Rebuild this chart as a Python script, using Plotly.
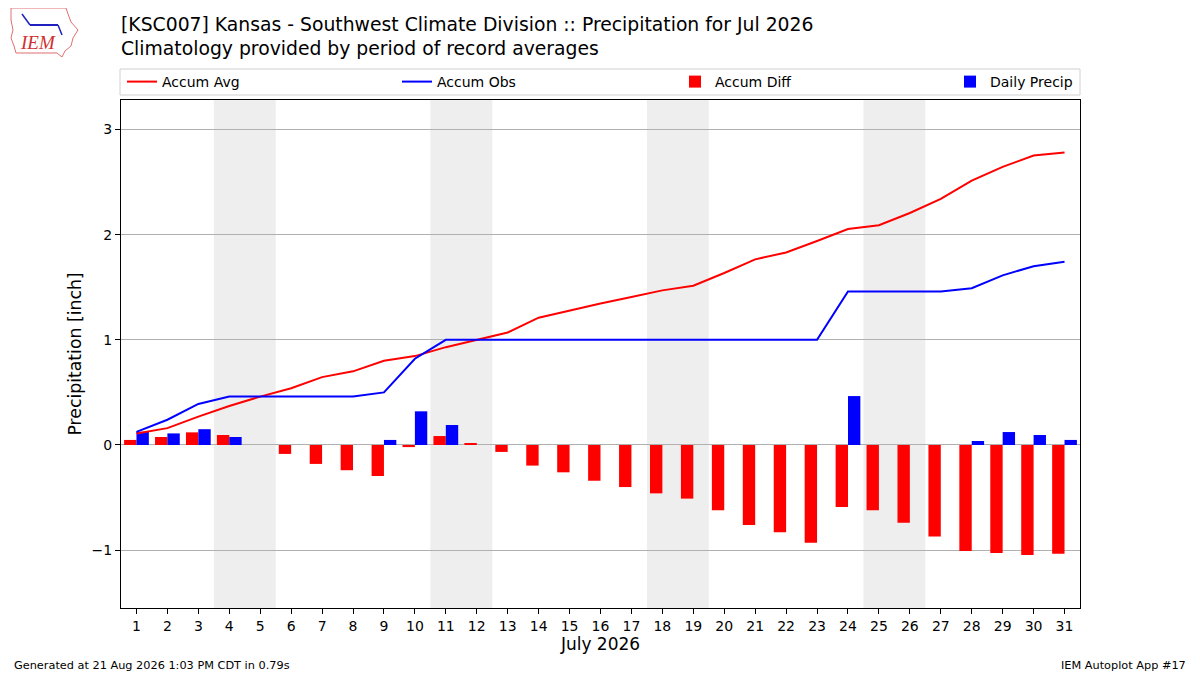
import plotly.graph_objects as go

days = list(range(1, 32))

accum_avg = [0.11, 0.16, 0.27, 0.37, 0.46, 0.54, 0.645, 0.70, 0.80, 0.845,
             0.93, 1.00, 1.07, 1.21, 1.28, 1.346, 1.406, 1.47, 1.514, 1.635,
             1.765, 1.83, 1.94, 2.054, 2.09, 2.206, 2.34, 2.514, 2.644, 2.752, 2.78]

accum_obs = [0.125, 0.24, 0.39, 0.46, 0.46, 0.46, 0.46, 0.46, 0.50, 0.82,
             1.00, 1.00, 1.00, 1.00, 1.00, 1.00, 1.00, 1.00, 1.00, 1.00,
             1.00, 1.00, 1.00, 1.46, 1.46, 1.46, 1.46, 1.49, 1.613, 1.70, 1.743]

accum_diff = [0.048, 0.076, 0.12, 0.095, 0.0, -0.085, -0.18, -0.24, -0.295, -0.02,
              0.085, 0.01, -0.066, -0.196, -0.26, -0.34, -0.40, -0.46, -0.51, -0.62,
              -0.76, -0.83, -0.93, -0.59, -0.62, -0.74, -0.87, -1.007, -1.026, -1.045, -1.035]

daily_precip = [0.125, 0.11, 0.15, 0.076, 0.0, 0.0, 0.0, 0.0, 0.048, 0.32,
                0.19, 0.0, 0.0, 0.0, 0.0, 0.0, 0.0, 0.0, 0.0, 0.0,
                0.0, 0.0, 0.0, 0.465, 0.0, 0.0, 0.0, 0.038, 0.123, 0.095, 0.048]

weekends = [(4, 5), (11, 12), (18, 19), (25, 26)]

title1 = "[KSC007] Kansas - Southwest Climate Division :: Precipitation for Jul 2026"
title2 = "Climatology provided by period of record averages"

# page body has an 8px margin, so the figure is drawn 8px smaller and
# everything below is given in reference-picture pixels
OFF = 8
W, H = 1200 - OFF, 675 - OFF
L, R, T, B = 121, 1080, 100, 608


def px(x):
    return (x - L) / (R - L)


def py(y):
    return (B - y) / (B - T)


FONT = "DejaVu Sans"

fig = go.Figure()

fig.add_trace(go.Scatter(x=days, y=accum_avg, mode="lines", name="Accum Avg",
                         line=dict(color="red", width=2), legend="legend"))
fig.add_trace(go.Scatter(x=days, y=accum_obs, mode="lines", name="Accum Obs",
                         line=dict(color="blue", width=2), legend="legend2"))
fig.add_trace(go.Bar(x=days, y=accum_diff, name="Accum Diff", marker_color="red",
                     marker_line_width=0, width=0.4, offset=-0.4, legend="legend3"))
fig.add_trace(go.Bar(x=days, y=daily_precip, name="Daily Precip", marker_color="blue",
                     marker_line_width=0, width=0.4, offset=0.0, legend="legend4"))

shapes = []
for a, b in weekends:
    shapes.append(dict(type="rect", xref="x", yref="paper", x0=a - 0.5, x1=b + 0.5,
                       y0=0, y1=1, fillcolor="#eeeeee", line_width=0, layer="below"))

# legend frame
shapes.append(dict(type="rect", xref="paper", yref="paper", x0=px(120), x1=px(1080),
                   y0=py(95), y1=py(69), line=dict(color="#d0d0d0", width=1),
                   fillcolor="rgba(255,255,255,0.8)"))

# rough logo outline
pts = [(11, 8), (66, 8), (68, 14), (71, 22), (78, 30), (73, 38), (71, 46),
       (65, 51), (62, 57), (57, 53), (16, 53), (14, 46), (11, 38), (13, 30), (11, 20)]
path = "M " + " L ".join(f"{px(x):.5f},{py(y):.5f}" for x, y in pts) + " Z"
shapes.append(dict(type="path", xref="paper", yref="paper", path=path,
                   line=dict(color="#e07070", width=1)))
shapes.append(dict(type="line", xref="paper", yref="paper", x0=px(30), x1=px(58),
                   y0=py(25), y1=py(25), line=dict(color="#2020c0", width=2)))
shapes.append(dict(type="line", xref="paper", yref="paper", x0=px(22), x1=px(30),
                   y0=py(14), y1=py(25), line=dict(color="#2020c0", width=1.5)))
shapes.append(dict(type="line", xref="paper", yref="paper", x0=px(58), x1=px(62),
                   y0=py(25), y1=py(35), line=dict(color="#2020c0", width=1.5)))

legend_common = dict(orientation="h", xanchor="left", yanchor="middle",
                     bgcolor="rgba(0,0,0,0)", borderwidth=0,
                     font=dict(family=FONT, size=14, color="black"))

legend_x = [122, 397, 675, 950]

annotations = [
    dict(text=title1 + "<br>" + title2, xref="paper", yref="paper", x=px(119), y=py(12),
         xanchor="left", yanchor="top", align="left", showarrow=False,
         font=dict(family=FONT, size=18.8, color="black")),
    dict(text="<i>IEM</i>", xref="paper", yref="paper", x=px(38), y=py(43),
         xanchor="center", yanchor="middle", showarrow=False,
         font=dict(family="Liberation Serif", size=19, color="#d03030")),
    dict(text="Generated at 21 Aug 2026 1:03 PM CDT in 0.79s", xref="paper", yref="paper",
         x=px(12), y=py(665), xanchor="left", yanchor="middle", showarrow=False,
         font=dict(family=FONT, size=11.3, color="black")),
    dict(text="IEM Autoplot App #17", xref="paper", yref="paper",
         x=px(1188), y=py(665), xanchor="right", yanchor="middle", showarrow=False,
         font=dict(family=FONT, size=11.3, color="black")),
]

layout_legends = {}
for i, lx in enumerate(legend_x):
    key = "legend" if i == 0 else f"legend{i + 1}"
    layout_legends[key] = dict(legend_common, x=px(lx), y=py(82))

fig.update_layout(
    width=W, height=H,
    margin=dict(l=L - OFF, r=1200 - R, t=T - OFF, b=675 - B, pad=0),
    paper_bgcolor="white", plot_bgcolor="white",
    font=dict(family=FONT, size=14, color="black"),
    showlegend=True,
    shapes=shapes,
    annotations=annotations,
    **layout_legends,
)

fig.update_xaxes(range=[0.5, 31.5], tickmode="array", tickvals=days,
                 ticktext=[str(d) for d in days], ticks="outside", ticklen=5,
                 tickcolor="black", showgrid=False, zeroline=False,
                 showline=True, mirror=True, linecolor="black", linewidth=1,
                 tickfont=dict(family=FONT, size=14),
                 title=dict(text="July 2026", font=dict(family=FONT, size=17), standoff=4))
fig.update_yaxes(range=[-1.55, 3.28], tickmode="array", tickvals=[-1, 0, 1, 2, 3],
                 ticks="outside", ticklen=5, tickcolor="black",
                 showgrid=True, gridcolor="#b0b0b0", gridwidth=1,
                 zeroline=True, zerolinecolor="#b0b0b0", zerolinewidth=1,
                 showline=True, mirror=True, linecolor="black", linewidth=1,
                 tickfont=dict(family=FONT, size=14),
                 title=dict(text="Precipitation [inch]", font=dict(family=FONT, size=17.3),
                            standoff=5))

fig.write_html("out.html")
